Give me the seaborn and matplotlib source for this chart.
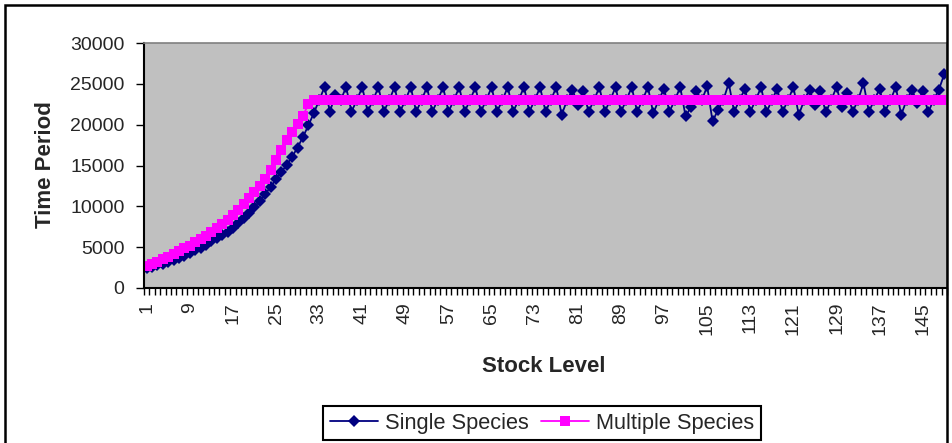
import matplotlib
matplotlib.use("Agg")
import matplotlib.pyplot as plt
import seaborn as sns
import pandas as pd
from matplotlib.patches import Rectangle
from matplotlib.ticker import FixedLocator

# ---------------- data ----------------
stock_level = list(range(1, 150))

single_species = [
    2400, 2600, 2800, 3000, 3200, 3450, 3700, 3950, 4250, 4600,
    4950, 5300, 5700, 6100, 6500, 6900, 7400, 7950, 8550, 9200,
    9900, 10700, 11500, 12400, 13300, 14200, 15100, 16100, 17200, 18500,
    19900, 21400,
    23000, 24600, 21600, 23650, 23000, 24600, 21600, 23000,
    24600, 21600, 23000, 24600, 21600, 23000, 24600, 21600, 23000,
    24600, 21600, 23000, 24600, 21600, 23000, 24600, 21600, 23000,
    24600, 21600, 23000, 24600, 21600, 23000, 24600, 21600, 23000,
    24600, 21600, 23000, 24600, 21600, 23000, 24600, 21600, 23000,
    24600, 21200, 23000,
    24300, 22400, 24100,
    21600, 23000,
    24600, 21600, 23000, 24600, 21600, 23000, 24600, 21600, 23000,
    24600, 21400, 23000, 24400, 21600, 23000,
    24600, 21000, 22200,
    24100, 23000,
    24700, 20400, 21800,
    23000, 25100, 21600,
    23000,
    24400, 21600, 23000, 24600, 21500, 23000, 24400, 21600, 23000,
    24600, 21200, 23000,
    24300, 22400, 24100,
    21500, 23000,
    24600, 22200, 23900,
    21600, 23000,
    25100, 21600, 23000, 24400, 21600, 23000, 24600, 21200, 23000,
    24300, 22600, 24100,
    21500, 23000,
    24300, 26200,
]

multiple_species = [
    2700, 2950, 3200, 3500, 3850, 4200, 4500, 4850, 5200, 5600,
    6000, 6400, 6850, 7300, 7800, 8350, 8900, 9550, 10250, 11000,
    11750, 12500, 13300, 14400, 15700, 16900, 18100, 19100, 20100, 21100,
    22500,
    23000, 23000, 23000, 23000, 23000, 23000, 23000, 23000, 23000, 23000,
    23000, 23000, 23000, 23000, 23000, 23000, 23000, 23000, 23000, 23000,
    23000, 23000, 23000, 23000, 23000, 23000, 23000, 23000, 23000, 23000,
    23000, 23000, 23000, 23000, 23000, 23000, 23000, 23000, 23000, 23000,
    23000, 23000, 23000, 23000, 23000, 23000, 23000, 23000, 23000, 23000,
    23000, 23000, 23000, 23000, 23000, 23000, 23000, 23000, 23000, 23000,
    23000, 23000, 23000, 23000, 23000, 23000, 23000, 23000, 23000, 23000,
    23000, 23000, 23000, 23000, 23000, 23000, 23000, 23000, 23000, 23000,
    23000, 23000, 23000, 23000, 23000, 23000, 23000, 23000, 23000, 23000,
    23000, 23000, 23000, 23000, 23000, 23000, 23000, 23000, 23000, 23000,
    23000, 23000, 23000, 23000, 23000, 23000, 23000, 23000, 23000, 23000,
    23000, 23000, 23000, 23000, 23000, 23000, 23000, 23000,
]

x_tick_labels = [str(v) for v in range(1, 150, 8)]
y_ticks = [0, 5000, 10000, 15000, 20000, 25000, 30000]

df = pd.DataFrame({"Stock Level": stock_level,
                   "Single Species": single_species,
                   "Multiple Species": multiple_species})

# ---------------- style ----------------
sns.set_style("white")
plt.rcParams["font.family"] = ["Liberation Sans", "DejaVu Sans"]

W, H = 952, 443
fig = plt.figure(figsize=(W / 100, H / 100), dpi=100)
fig.patch.set_facecolor("white")

L, R, T, B = 144, 947, 43, 288
ax = fig.add_axes([L / W, 1 - B / H, (R - L) / W, (B - T) / H])
ax.set_facecolor("#C0C0C0")

sns.lineplot(data=df, x="Stock Level", y="Single Species", ax=ax,
             color="#000080", marker="D", markersize=7.3, markeredgewidth=0,
             linewidth=1.3, estimator=None, label="Single Species")
sns.lineplot(data=df, x="Stock Level", y="Multiple Species", ax=ax,
             color="#FF00FF", marker="s", markersize=8.0, markeredgewidth=0,
             linewidth=1.3, estimator=None, label="Multiple Species")

ax.set_xlim(0.5, 149.5)
ax.set_ylim(0, 30000)

ax.set_xticks([int(s) for s in x_tick_labels])
ax.set_xticklabels(x_tick_labels, rotation=90, fontsize=14)
ax.xaxis.set_minor_locator(FixedLocator([i + 0.5 for i in range(0, 150)]))
ax.tick_params(axis="x", which="major", length=0, pad=10)
ax.tick_params(axis="x", which="minor", length=5, width=1, color="black",
               direction="out", bottom=True)

ax.set_yticks(y_ticks)
ax.set_yticklabels([str(v) for v in y_ticks], fontsize=14)
ax.tick_params(axis="y", which="major", length=6, width=1, color="black",
               direction="out", left=True, pad=8)

for s in ("left", "bottom"):
    ax.spines[s].set_color("black")
    ax.spines[s].set_linewidth(1.5)
for s in ("top", "right"):
    ax.spines[s].set_color("#808080")
    ax.spines[s].set_linewidth(1.2)

ax.set_xlabel("Stock Level", fontsize=16, fontweight="bold")
ax.set_ylabel("Time Period", fontsize=16, fontweight="bold")
ax.xaxis.set_label_coords((544 - L) / (R - L), (B - 356) / (B - T))
ax.yaxis.set_label_coords((56 - L) / (R - L), (B - 165) / (B - T))

ax.get_legend().remove()
handles, labels = ax.get_legend_handles_labels()
for h in handles:
    h.set_markersize(6.5)
leg = fig.legend(handles, labels, loc="center",
                 bbox_to_anchor=(542 / W, 1 - 423 / H),
                 ncol=2, frameon=True, fancybox=False, fontsize=15.7,
                 handlelength=2.2, handletextpad=0.3, columnspacing=0.6,
                 borderpad=0.3, borderaxespad=0)
leg.get_frame().set_edgecolor("black")
leg.get_frame().set_linewidth(1.5)
leg.get_frame().set_alpha(1)

# outer chart border
fig.patches.append(Rectangle((5 / W, -0.05), (W - 10) / W, 1 - 5 / H + 0.05,
                             transform=fig.transFigure, fill=False,
                             edgecolor="black", linewidth=1.8))

fig.savefig("out.png", dpi=100)
